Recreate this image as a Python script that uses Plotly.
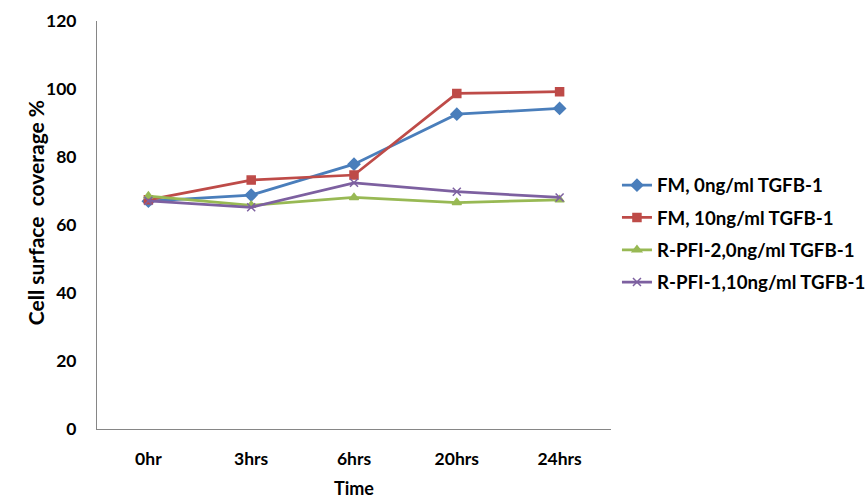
import plotly.graph_objects as go

categories = ["0hr", "3hrs", "6hrs", "20hrs", "24hrs"]
fm_0 = [67.0, 68.8, 77.9, 92.6, 94.3]
fm_10 = [67.4, 73.2, 74.7, 98.7, 99.2]
rpfi2_0 = [68.5, 65.8, 68.1, 66.6, 67.4]
rpfi1_10 = [67.1, 65.2, 72.4, 69.8, 68.1]

series = [
    ("FM, 0ng/ml TGFB-1", fm_0, "#4A7EBB", "diamond", 9),
    ("FM, 10ng/ml TGFB-1", fm_10, "#BE4B48", "square", 8),
    ("R-PFI-2,0ng/ml TGFB-1", rpfi2_0, "#98B954", "triangle-up", 8),
    ("R-PFI-1,10ng/ml TGFB-1", rpfi1_10, "#7D60A0", "x-thin", 8),
]

font_family = "Lato, Open Sans, sans-serif"

fig = go.Figure()
for i, (name, vals, color, sym, size) in enumerate(series):
    fig.add_trace(go.Scatter(
        x=categories, y=vals, name=name, mode="lines+markers",
        line=dict(color=color, width=2.75),
        marker=dict(symbol=sym, size=size, color=color,
                    line=dict(color=color, width=1.5)),
        legendgroup=f"g{i}",
    ))

fig.add_annotation(
    text="Cell surface  coverage %", textangle=-90,
    xref="paper", yref="paper", x=-0.1206, y=0.529,
    xanchor="center", yanchor="middle", showarrow=False,
    font=dict(size=21, family=font_family, weight="bold", color="#000000"),
)

fig.update_layout(
    width=868, height=499,
    margin=dict(l=97, r=257, t=21, b=70, autoexpand=False),
    paper_bgcolor="white", plot_bgcolor="white",
    font=dict(family=font_family, color="#000000"),
    showlegend=True,
    legend=dict(x=1.0116, xanchor="left", y=0.478, yanchor="middle",
                font=dict(size=18.7, family=font_family, weight="bold"),
                tracegroupgap=5, bgcolor="rgba(0,0,0,0)"),
    xaxis=dict(
        type="category", range=[-0.5, 4.5], automargin=False,
        showline=True, linecolor="#868686", linewidth=1,
        showgrid=False, ticks="", zeroline=False,
        ticklabelstandoff=14,
        tickfont=dict(size=17.5, family=font_family, weight="bold"),
        title=dict(text="Time", font=dict(size=18, family=font_family, weight="bold"), standoff=14),
    ),
    yaxis=dict(
        range=[0, 120], dtick=20, automargin=False,
        showline=True, linecolor="#868686", linewidth=1,
        showgrid=False, ticks="", zeroline=False,
        ticklabelstandoff=16,
        tickfont=dict(size=17.5, family=font_family, weight="bold"),
    ),
)

fig.write_html("out.html", config={"displayModeBar": False},
               post_script="document.body.style.margin='0';")
